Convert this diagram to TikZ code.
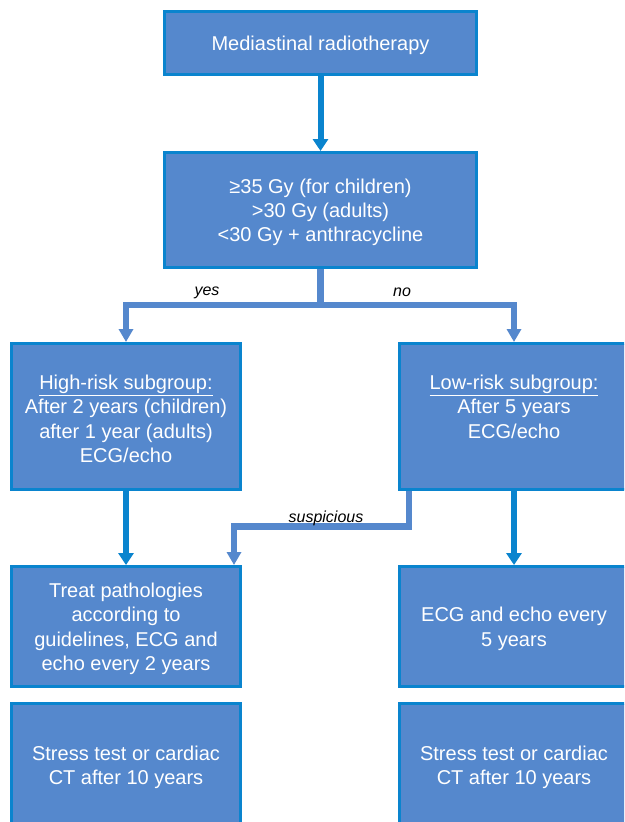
\documentclass[tikz,border=0pt]{standalone}
\usepackage{fontspec}
\setmainfont{Liberation Sans}
\usetikzlibrary{arrows.meta}
\definecolor{boxfill}{HTML}{5588CD}
\definecolor{boxline}{HTML}{0A84CE}
\definecolor{sideline}{HTML}{5588CD}
\newcommand{\firststrut}{\rule{0pt}{19pt}}
\tikzset{
  flowbox/.style={draw=boxline, fill=boxfill, line width=3pt, text=white,
    align=center, inner sep=0pt, font=\fontsize{20}{24.3}\selectfont},
  mainarrow/.style={draw=boxline, line width=6pt,
    -{Triangle[width=15pt,length=12pt]}},
  sidearrow/.style={draw=sideline, line width=6.5pt,
    -{Triangle[width=14pt,length=13pt]}},
  sideline/.style={draw=sideline, line width=6.5pt},
  lbl/.style={font=\fontsize{16}{19}\selectfont\itshape, text=black, inner sep=0pt}
}
\begin{document}
\begin{tikzpicture}[x=1pt,y=-1pt]
\useasboundingbox (0,0) rectangle (624,822);
\clip (0,0) rectangle (624,822);
\fill[white] (0,0) rectangle (624,822);

\node[flowbox, minimum width=312pt, minimum height=63pt] (b1) at (320.5,43) {\firststrut Mediastinal radiotherapy};
\node[flowbox, minimum width=312pt, minimum height=115pt] (b2) at (320.5,210)
  {\firststrut ≥35 Gy (for children)\\>30 Gy (adults)\\<30 Gy + anthracycline};
\node[flowbox, minimum width=229pt, minimum height=146pt] (hi) at (126,416.5)
  {\firststrut\underline{High-risk subgroup:}\\After 2 years (children)\\after 1 year (adults)\\ECG/echo};
\node[flowbox, minimum width=229pt, minimum height=146pt] (lo) at (514,416.5)
  {\firststrut\underline{Low-risk subgroup:}\\After 5 years\\ECG/echo\\\mbox{}};
\node[flowbox, minimum width=229pt, minimum height=120pt] (tr) at (126,626.5)
  {\firststrut Treat pathologies\\according to\\guidelines, ECG and\\echo every 2 years};
\node[flowbox, minimum width=229pt, minimum height=120pt] (ec) at (514,626.5)
  {\firststrut ECG and echo every\\5 years};
\node[flowbox, minimum width=229pt, minimum height=123pt] (sl) at (126,765)
  {\firststrut Stress test or cardiac\\CT after 10 years};
\node[flowbox, minimum width=229pt, minimum height=123pt] (sr) at (514,765)
  {\firststrut Stress test or cardiac\\CT after 10 years};

\draw[mainarrow] (b1.south) -- (b2.north);
\draw[mainarrow] (hi.south) -- (tr.north);
\draw[mainarrow] (lo.south) -- (ec.north);

\coordinate (j) at (320.5,305);
\draw[sideline] (b2.south) -- (j);
\draw[sidearrow] (j) -| (hi.north);
\draw[sidearrow] (j) -| (lo.north);

\coordinate (s1) at (409,526.5);
\coordinate (s2) at (234,526.5);
\draw[sidearrow] (s1 |- lo.south) -- (s1) -- (s2) -- (s2 |- tr.north);

\node[lbl] (yes) at (207,292.5) {yes};
\node[lbl] (no) at (402,292.5) {no};
\node[lbl] (susp) at (326,518.5) {suspicious};
\end{tikzpicture}
\end{document}
